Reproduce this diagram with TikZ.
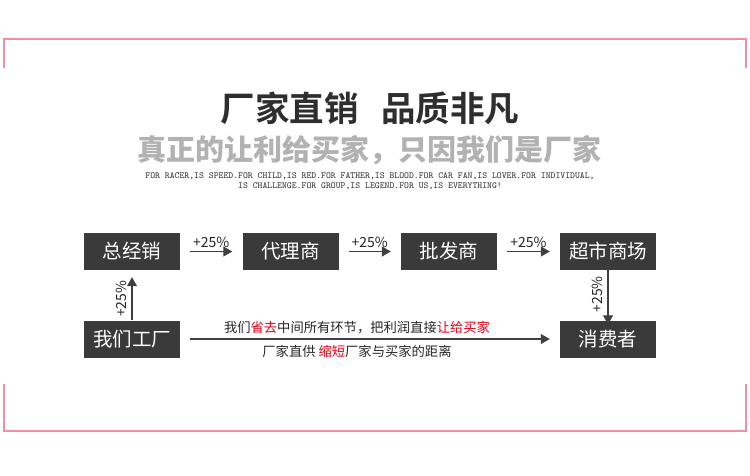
\documentclass[tikz,border=0pt]{standalone}
\usepackage{fontspec}
\newfontfamily\cjk{Noto Sans CJK SC}
\newfontfamily\cjkb{Noto Sans CJK SC Bold}
\usetikzlibrary{arrows.meta}
\definecolor{pinkline}{HTML}{F28DA2}
\definecolor{boxfill}{HTML}{3A3A3A}
\definecolor{arrgray}{HTML}{404040}
\definecolor{redtxt}{HTML}{E60012}
\begin{document}
\begin{tikzpicture}[x=1pt,y=-1pt,
  stagebox/.style={draw=none,fill=boxfill,text=white,minimum width=96pt,minimum height=37pt,inner sep=0pt,font=\cjk\fontsize{19.5}{19.5}\selectfont},
  flow/.style={draw=arrgray,line width=1.1pt,-{Triangle[length=9pt,width=10pt]}},
  pct/.style={font=\cjk\fontsize{14}{14}\selectfont,text=black!85,inner sep=1pt},
  note/.style={font=\cjk\fontsize{13.3}{13.3}\selectfont,text=black!85,inner sep=1pt}]
\useasboundingbox (0,0) rectangle (750,475);
% pink brackets
\draw[pinkline,line width=1.2pt] (4,68) -- (4,39) -- (746,39) -- (746,68);
\draw[pinkline,line width=1.2pt] (4,384) -- (4,431) -- (746,431) -- (746,384);
% titles
\node[font=\cjkb\fontsize{34.5}{34.5}\selectfont,text=black!82] (title) at (370,108) {厂家直销\hspace{0.65em}品质非凡};
\node[font=\cjk\bfseries\fontsize{29}{29}\selectfont,text=black!30] (sub) at (369,150) {真正的让利给买家，只因我们是厂家};
\node[font=\ttfamily\fontsize{9.3}{9.5}\selectfont,text=black!80,align=center] (eng) at (370,181) {FOR RACER,IS SPEED.FOR CHILD,IS RED.FOR FATHER,IS BLOOD.FOR CAR FAN,IS LOVER.FOR INDIVIDUAL,\\IS CHALLENGE.FOR GROUP,IS LEGEND.FOR US,IS EVERYTHING!};
% boxes
\node[stagebox] (a) at (132,251.5) {总经销};
\node[stagebox] (b) at (290.5,251.5) {代理商};
\node[stagebox] (c) at (449,251.5) {批发商};
\node[stagebox] (d) at (608,251.5) {超市商场};
\node[stagebox] (f) at (132,339) {我们工厂};
\node[stagebox] (e) at (608,339) {消费者};
% arrows
\draw[flow] ([xshift=10pt]a.east) -- node[pct,above=2pt] {+25\%} ([xshift=-10pt]b.west);
\draw[flow] ([xshift=10pt]b.east) -- node[pct,above=2pt] {+25\%} ([xshift=-10pt]c.west);
\draw[flow] ([xshift=10pt]c.east) -- node[pct,above=2pt] {+25\%} ([xshift=-10pt]d.west);
\draw[flow] (f.north) -- node[pct,rotate=90,above=4pt] {+25\%} ([yshift=-7pt]a.south);
\draw[flow] ([yshift=6pt]d.south) -- node[pct,rotate=90,above=4pt] {+25\%} ([yshift=-4pt]e.north);
\draw[flow] ([xshift=10pt]f.east) -- node[note,above=4pt,xshift=-13pt] (t1) {我们{\color{redtxt}省去}中间所有环节，把利润直接{\color{redtxt}让给买家}} node[note,below=5pt,xshift=-13pt] (t2) {厂家直供 {\color{redtxt}缩短}厂家与买家的距离} ([xshift=-10pt]e.west);
\end{tikzpicture}
\end{document}
